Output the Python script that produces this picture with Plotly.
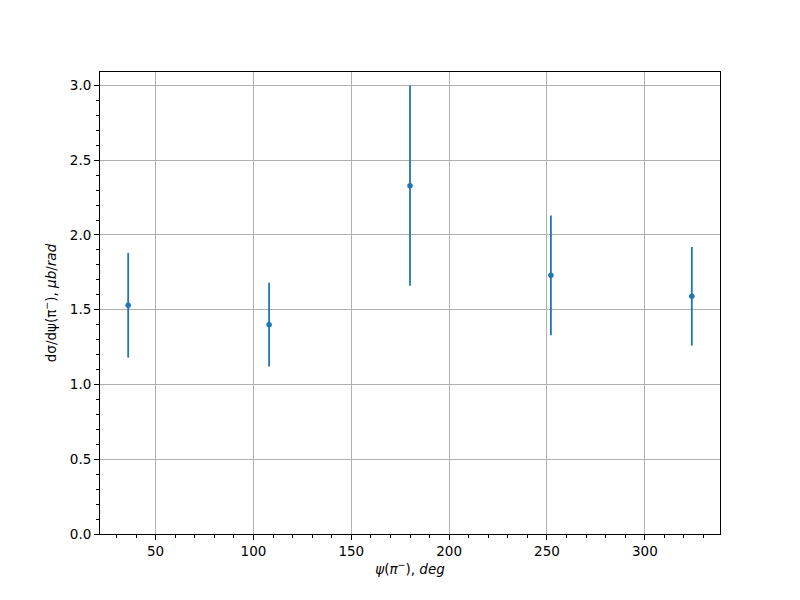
import plotly.graph_objects as go

angles = [36, 108, 180, 252, 324]
values = [1.53, 1.40, 2.33, 1.73, 1.59]
errors = [0.35, 0.28, 0.67, 0.40, 0.33]

color = "#1f77b4"
fig = go.Figure()
fig.add_trace(go.Scatter(
    x=angles, y=values, mode="markers",
    marker=dict(color=color, size=5.5),
    error_y=dict(type="data", array=errors, color=color, thickness=1.8, width=0),
    showlegend=False,
))

font = dict(family="DejaVu Sans", size=13.5, color="black")
fig.update_layout(
    width=800, height=600,
    margin=dict(l=92, r=88, t=64, b=74),
    paper_bgcolor="white", plot_bgcolor="white",
    font=font,
)
fig.update_xaxes(
    range=[21.6, 338.4], tickvals=[50, 100, 150, 200, 250, 300],
    showgrid=True, gridcolor="#b0b0b0", gridwidth=1,
    showline=True, linecolor="black", linewidth=1, mirror=True,
    ticks="outside", ticklen=5, tickcolor="black",
    minor=dict(dtick=10, tick0=0, ticks="outside", ticklen=3, tickcolor="black", showgrid=False),
    zeroline=False,
    title=dict(text="<i>ψ</i>(<i>π</i><sup>−</sup>), <i>deg</i>", font=font, standoff=6),
)
fig.update_yaxes(
    range=[0, 3.09], tickvals=[0, 0.5, 1.0, 1.5, 2.0, 2.5, 3.0],
    ticktext=["0.0", "0.5", "1.0", "1.5", "2.0", "2.5", "3.0"],
    showgrid=True, gridcolor="#b0b0b0", gridwidth=1,
    showline=True, linecolor="black", linewidth=1, mirror=True,
    ticks="outside", ticklen=5, tickcolor="black",
    minor=dict(dtick=0.1, tick0=0, ticks="outside", ticklen=3, tickcolor="black", showgrid=False),
    zeroline=False,
    title=dict(text="dσ/dψ(π<sup>−</sup>), <i>μb</i>/<i>rad</i>", font=font, standoff=10),
)
fig.write_html("out.html")
